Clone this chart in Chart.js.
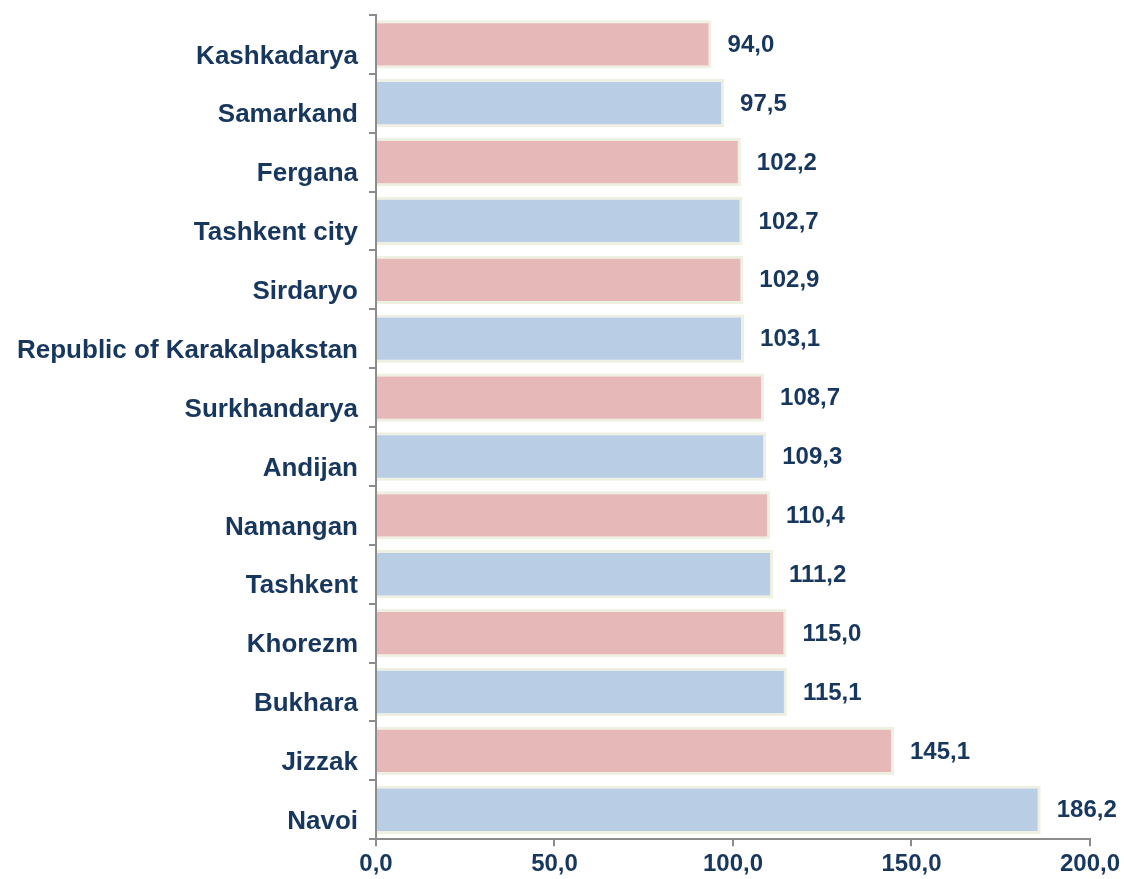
<!DOCTYPE html>
<html>
<head>
<meta charset="utf-8">
<script src="https://cdn.jsdelivr.net/npm/chart.js@4"></script>
<style>
  body { margin: 0; background: #fff; }
  #wrap { width: 1124px; height: 879px; }
</style>
</head>
<body>
<div id="wrap"><canvas id="regionChart" width="1124" height="879"></canvas></div>
<script>
let regions = ["Kashkadarya", "Samarkand", "Fergana", "Tashkent city", "Sirdaryo",
  "Republic of Karakalpakstan", "Surkhandarya", "Andijan", "Namangan", "Tashkent",
  "Khorezm", "Bukhara", "Jizzak", "Navoi"];
let values = [94.0, 97.5, 102.2, 102.7, 102.9, 103.1, 108.7, 109.3, 110.4, 111.2, 115.0, 115.1, 145.1, 186.2];
let xTicks = [0, 50, 100, 150, 200];

let navy = "#17375e";
let barColors = values.map((v, i) => i % 2 == 0 ? "#e6b9b8" : "#b9cde5");

function fmt(v) {
  return Number(v).toFixed(1).replace(".", ",");
}

// value labels at end of each bar
const valueLabels = {
  id: "valueLabels",
  afterDatasetsDraw(chart) {
    let ctx = chart.ctx;
    let meta = chart.getDatasetMeta(0);
    ctx.save();
    ctx.font = "bold 24px 'Liberation Sans', Arial, sans-serif";
    ctx.fillStyle = navy;
    ctx.textAlign = "left";
    ctx.textBaseline = "middle";
    meta.data.forEach((bar, i) => {
      ctx.fillText(fmt(values[i]), bar.x + 16, bar.y + 1);
    });
    ctx.restore();
  }
};

new Chart(document.getElementById("regionChart"), {
  type: "bar",
  data: {
    labels: regions,
    datasets: [{
      data: values,
      backgroundColor: barColors,
      borderColor: "#eef1e2",
      borderWidth: 3,
      barPercentage: 0.82,
      categoryPercentage: 1
    }]
  },
  options: {
    indexAxis: "y",
    responsive: false,
    animation: false,
    layout: { padding: { left: 6, top: 0, right: 33, bottom: -4 } },
    plugins: {
      legend: { display: false },
      tooltip: { enabled: false }
    },
    scales: {
      x: {
        min: 0,
        max: 200,
        afterBuildTicks: (axis) => { axis.ticks = xTicks.map(v => ({ value: v })); },
        border: { color: "#8c8c8c", width: 2 },
        grid: { drawOnChartArea: false, color: "#8c8c8c", lineWidth: 2, tickLength: 7 },
        ticks: {
          color: navy,
          font: { family: "'Liberation Sans', Arial, sans-serif", size: 24, weight: "bold" },
          padding: 4,
          callback: (v) => fmt(v)
        }
      },
      y: {
        border: { color: "#8c8c8c", width: 2 },
        grid: { offset: true, drawOnChartArea: false, color: "#8c8c8c", lineWidth: 2, tickLength: 7 },
        ticks: {
          color: navy,
          font: { family: "'Liberation Sans', Arial, sans-serif", size: 26, weight: "bold", lineHeight: 0.3 },
          padding: 11,
          labelOffset: 12
        }
      }
    }
  },
  plugins: [valueLabels]
});
</script>
</body>
</html>
